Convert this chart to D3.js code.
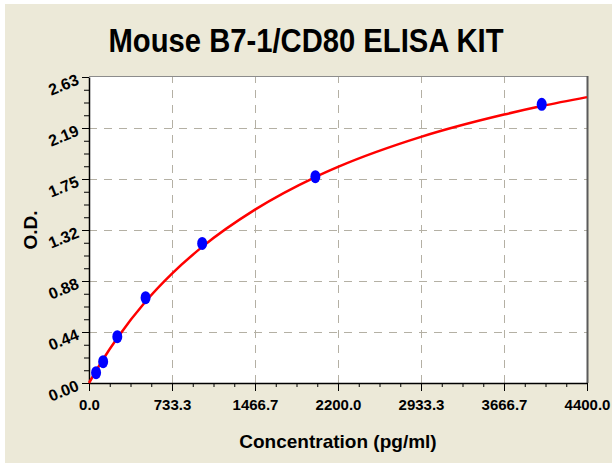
<!DOCTYPE html>
<html>
<head>
<meta charset="utf-8">
<script src="https://cdn.jsdelivr.net/npm/d3@7"></script>
<style>
  body { margin: 0; background: #fff; }
  svg text { font-family: "Liberation Sans", Arial, sans-serif; font-weight: bold; fill: #000; }
</style>
</head>
<body>
<svg id="chart" width="612" height="463"></svg>
<script>
// standards (pg/ml) and measured O.D.
let conc = [62.5, 125, 250, 500, 1000, 2000, 4000];
let od = [0.089, 0.183, 0.398, 0.733, 1.20, 1.773, 2.395];

// fitted curve
let curveConc = [0, 125, 250, 500, 733.3, 1000, 1466.7, 2000, 2200, 2933.3, 3666.7, 4000, 4400];
let curveOd = [0, 0.204, 0.386, 0.70, 0.94, 1.17, 1.49, 1.77, 1.857, 2.115, 2.307, 2.38, 2.457];

let xTickLabels = ["0.0", "733.3", "1466.7", "2200.0", "2933.3", "3666.7", "4400.0"];
let yTickLabels = ["0.00", "0.44", "0.88", "1.32", "1.75", "2.19", "2.63"];

let xMax = 4400, yMax = 2.63;

function render_chart()
{
    var margin = {
            top: 77,
            right: 25,
            bottom: 80,
            left: 89
        }
    let svg = d3.select("#chart");
    let width = +svg.attr("width");
    let height = +svg.attr("height");

    // outer beige panel
    svg.append("rect")
        .attr("x", 5).attr("y", 4)
        .attr("width", width - 5).attr("height", height - 4)
        .attr("fill", "#ece9d8");

    let x = d3.scaleLinear().domain([0, xMax]).range([margin.left, width - margin.right]);
    let y = d3.scaleLinear().domain([0, yMax]).range([height - margin.bottom, margin.top]);

    let xMajor = xTickLabels.map((d, i) => i * xMax / (xTickLabels.length - 1));
    let yMajor = yTickLabels.map((d, i) => i * yMax / (yTickLabels.length - 1));
    let xMinor = d3.range(0, 25).map(i => i * xMax / 24);
    let yMinor = d3.range(0, 25).map(i => i * yMax / 24);

    svg.append("rect")
        .attr("x", x(0)).attr("y", y(yMax))
        .attr("width", x(xMax) - x(0)).attr("height", y(0) - y(yMax))
        .attr("fill", "#fff");

    // dashed grid
    let grid = svg.append("g")
        .attr("stroke", "#b4b0a4")
        .attr("stroke-width", 1)
        .attr("stroke-dasharray", "8,7");
    grid.selectAll(".vg")
        .data(xMajor.slice(1, -1))
        .enter()
            .append("line")
            .attr("x1", d => Math.round(x(d)) + 0.5).attr("x2", d => Math.round(x(d)) + 0.5)
            .attr("y1", y(0)).attr("y2", y(yMax));
    grid.selectAll(".hg")
        .data(yMajor.slice(1, -1))
        .enter()
            .append("line")
            .attr("y1", d => Math.round(y(d)) + 0.5).attr("y2", d => Math.round(y(d)) + 0.5)
            .attr("x1", x(0)).attr("x2", x(xMax));

    // frame: light top, dark right
    svg.append("line")
        .attr("x1", x(0)).attr("x2", x(xMax))
        .attr("y1", y(yMax) - 0.5).attr("y2", y(yMax) - 0.5)
        .attr("stroke", "#8c8c8c").attr("stroke-width", 1);
    svg.append("line")
        .attr("x1", x(xMax) + 0.5).attr("x2", x(xMax) + 0.5)
        .attr("y1", y(yMax) - 1).attr("y2", y(0))
        .attr("stroke", "#5a5a5a").attr("stroke-width", 2);

    // minor ticks
    svg.append("g")
        .attr("transform", "translate(0," + y(0) + ")")
        .call(d3.axisBottom(x).tickValues(xMinor).tickSize(4).tickSizeOuter(0).tickFormat(""))
        .call(g => g.select(".domain").remove());
    svg.append("g")
        .attr("transform", "translate(" + x(0) + ",0)")
        .call(d3.axisLeft(y).tickValues(yMinor).tickSize(5).tickSizeOuter(0).tickFormat(""))
        .call(g => g.select(".domain").remove());

    // major ticks + labels
    let xAxis = svg.append("g")
        .attr("transform", "translate(0," + y(0) + ")")
        .call(d3.axisBottom(x).tickValues(xMajor).tickSize(8).tickSizeOuter(0)
            .tickFormat((d, i) => xTickLabels[i]));
    xAxis.select(".domain").attr("stroke", "#000").attr("stroke-width", 1.5);
    xAxis.selectAll("text")
        .style("font-size", "15px")
        .attr("dy", "1.05em");

    let yAxis = svg.append("g")
        .attr("transform", "translate(" + x(0) + ",0)")
        .call(d3.axisLeft(y).tickValues(yMajor).tickSize(7).tickSizeOuter(0).tickFormat(""));
    yAxis.select(".domain").attr("stroke", "#000").attr("stroke-width", 1.5);

    svg.selectAll(".ylab")
        .data(yMajor)
        .enter()
            .append("text")
            .attr("class", "ylab")
            .attr("text-anchor", "end")
            .style("font-size", "16px")
            .attr("transform", d => `translate(${x(0) - 9},${y(d) + 7}) rotate(-22)`)
            .text((d, i) => yTickLabels[i]);

    // fitted curve
    let line = d3.line()
        .x(d => x(d[0]))
        .y(d => y(d[1]))
        .curve(d3.curveMonotoneX);
    svg.append("path")
        .datum(curveConc.map((c, i) => [c, curveOd[i]]))
        .attr("fill", "none")
        .attr("stroke", "#ff0000")
        .attr("stroke-width", 2.5)
        .attr("d", line);

    // standards
    svg.selectAll(".pt")
        .data(conc.map((c, i) => [c, od[i]]))
        .enter()
            .append("ellipse")
            .attr("cx", d => x(d[0]))
            .attr("cy", d => y(d[1]))
            .attr("rx", 5)
            .attr("ry", 6.5)
            .attr("fill", "#0000ff");

    // titles
    svg.append("text")
        .attr("x", 306).attr("y", 52)
        .attr("text-anchor", "middle")
        .attr("textLength", 395)
        .attr("lengthAdjust", "spacingAndGlyphs")
        .style("font-size", "33px")
        .text("Mouse B7-1/CD80 ELISA KIT");
    svg.append("text")
        .attr("x", (x(0) + x(xMax)) / 2).attr("y", 448)
        .attr("text-anchor", "middle")
        .style("font-size", "19px")
        .text("Concentration (pg/ml)");
    svg.append("text")
        .attr("transform", `translate(37,${(y(0) + y(yMax)) / 2}) rotate(-90)`)
        .attr("text-anchor", "middle")
        .style("font-size", "19px")
        .text("O.D.");
}

render_chart();
</script>
</body>
</html>
